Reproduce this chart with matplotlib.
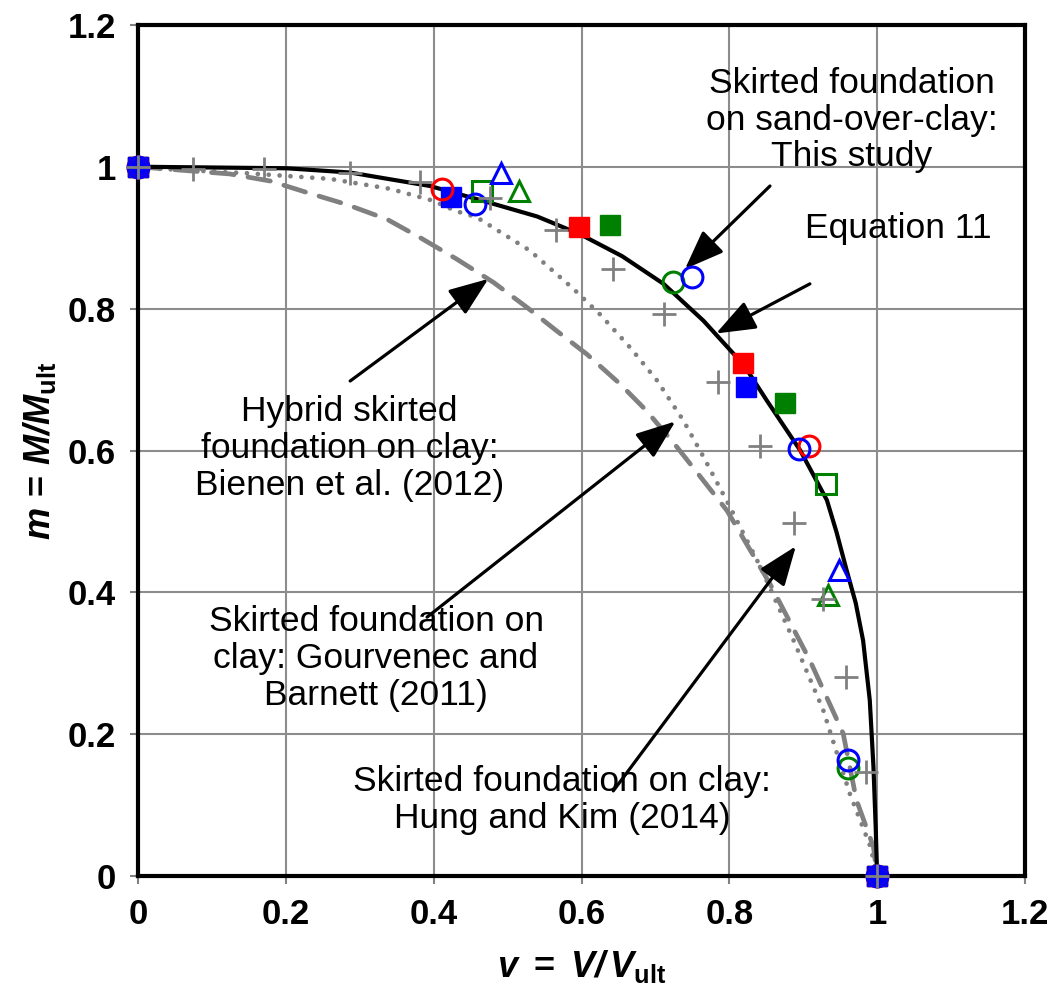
import matplotlib.pyplot as plt

plt.rcParams['font.family'] = ['Liberation Sans', 'DejaVu Sans']
plt.rcParams['mathtext.fontset'] = 'custom'
plt.rcParams['mathtext.rm'] = 'Liberation Sans'
plt.rcParams['mathtext.it'] = 'Liberation Sans:italic'
plt.rcParams['mathtext.bf'] = 'Liberation Sans:bold'
plt.rcParams['mathtext.bfit'] = 'Liberation Sans:italic:bold'

# Equation 11 (solid black)
eq11_v = [0, 0.016, 0.201, 0.287, 0.395, 0.467, 0.540, 0.598, 0.655, 0.711, 0.765,
          0.820, 0.851, 0.896, 0.932, 0.945, 0.959, 0.971, 0.981, 0.990, 0.995, 0.998, 1.0]
eq11_m = [1, 1.0, 0.998, 0.992, 0.973, 0.952, 0.930, 0.905, 0.874, 0.835, 0.783,
          0.720, 0.670, 0.600, 0.530, 0.485, 0.430, 0.385, 0.332, 0.248, 0.154, 0.070, 0.0]

# Bienen et al. (2012) (gray dashed)
bienen_v = [0, 0.124, 0.179, 0.228, 0.282, 0.337, 0.382, 0.431, 0.481, 0.526, 0.566,
            0.607, 0.652, 0.688, 0.729, 0.751, 0.797, 0.855, 0.909, 0.954, 0.972, 0.995, 1.0]
bienen_m = [1, 0.990, 0.980, 0.964, 0.947, 0.926, 0.900, 0.870, 0.837, 0.802, 0.769,
            0.736, 0.694, 0.656, 0.605, 0.576, 0.515, 0.412, 0.304, 0.201, 0.107, 0.041, 0.0]

# Gourvenec and Barnett (2011) (gray dotted)
gourv_v = [0, 0.034, 0.147, 0.260, 0.341, 0.400, 0.429, 0.458, 0.530, 0.589, 0.625,
           0.666, 0.702, 0.738, 0.765, 0.801, 0.842, 0.887, 0.927, 0.963, 0.991, 1.0]
gourv_m = [1, 0.997, 0.991, 0.983, 0.969, 0.952, 0.938, 0.929, 0.882, 0.828, 0.792,
           0.745, 0.699, 0.642, 0.591, 0.520, 0.436, 0.332, 0.234, 0.116, 0.041, 0.0]

# Hung and Kim (2014) (gray plus)
hung_v = [0, 0.075, 0.170, 0.287, 0.382, 0.476, 0.565, 0.643, 0.711, 0.784, 0.841,
          0.887, 0.927, 0.958, 0.985, 1.0]
hung_m = [1, 0.997, 0.997, 0.991, 0.978, 0.956, 0.911, 0.856, 0.792, 0.697, 0.607,
          0.498, 0.390, 0.280, 0.146, 0.0]

# This study (coloured markers)
red_sq_v = [0, 0.597, 0.819, 1.0]
red_sq_m = [1, 0.915, 0.723, 0.0]
blue_sq_v = [0, 0.424, 0.822, 1.0]
blue_sq_m = [1, 0.958, 0.689, 0.0]
green_sq_v = [0, 0.639, 0.875, 1.0]
green_sq_m = [1, 0.918, 0.667, 0.0]
red_ci_v = [0, 0.411, 0.908, 1.0]
red_ci_m = [1, 0.969, 0.606, 0.0]
blue_ci_v = [0, 0.456, 0.750, 0.894, 0.960, 1.0]
blue_ci_m = [1, 0.947, 0.845, 0.602, 0.164, 0.0]
green_ci_v = [0.724, 0.960]
green_ci_m = [0.838, 0.152]
green_osq_v = [0.466, 0.931]
green_osq_m = [0.966, 0.553]
blue_tri_v = [0.491, 0.949]
blue_tri_m = [0.991, 0.431]
green_tri_v = [0.516, 0.933]
green_tri_m = [0.966, 0.396]

ticks = [0, 0.2, 0.4, 0.6, 0.8, 1, 1.2]
tick_labels = ['0', '0.2', '0.4', '0.6', '0.8', '1', '1.2']

fig = plt.figure(figsize=(10.57, 10.01), dpi=100)
ax = fig.add_axes([0.1306, 0.1249, 0.8391, 0.8501])

gray = '#808080'
ax.plot(bienen_v, bienen_m, color=gray, lw=3.4, ls=(0, (4.8, 3.0)),
        dash_capstyle='round', zorder=2)
ax.plot(gourv_v, gourv_m, color=gray, lw=3.4, ls=(0, (0.01, 2.3)),
        dash_capstyle='round', zorder=2)
ax.plot(eq11_v, eq11_m, color='black', lw=3, zorder=3, solid_joinstyle='round')

ms = 15
kw = dict(clip_on=False, zorder=4)
ax.plot(green_sq_v, green_sq_m, 's', color='#008000', ms=ms, **kw)
ax.plot(red_sq_v, red_sq_m, 's', color='#FF0000', ms=ms, **kw)
ax.plot(blue_sq_v, blue_sq_m, 's', color='#0000FF', ms=ms, **kw)
ax.plot(green_osq_v, green_osq_m, 's', mfc='none', mec='#008000', mew=2.2, ms=14, **kw)
ax.plot(green_ci_v, green_ci_m, 'o', mfc='none', mec='#008000', mew=2.2, ms=15, **kw)
ax.plot(red_ci_v, red_ci_m, 'o', mfc='none', mec='#FF0000', mew=2.2, ms=15, **kw)
ax.plot(blue_ci_v, blue_ci_m, 'o', mfc='none', mec='#0000FF', mew=2.2, ms=15, **kw)
ax.plot(blue_tri_v, blue_tri_m, '^', mfc='none', mec='#0000FF', mew=2.2, ms=15, **kw)
ax.plot(green_tri_v, green_tri_m, '^', mfc='none', mec='#008000', mew=2.2, ms=15, **kw)
ax.plot(hung_v, hung_m, '+', color=gray, mew=2, ms=17, clip_on=False, zorder=5)

ax.set_xlim(0, 1.2)
ax.set_ylim(0, 1.2)
ax.set_xticks(ticks)
ax.set_yticks(ticks)
ax.set_xticklabels(tick_labels, fontsize=25, fontweight='bold')
ax.set_yticklabels(tick_labels, fontsize=25, fontweight='bold')
ax.tick_params(direction='out', length=6, width=1.5, color=gray, pad=10)
ax.grid(True, color='#8c8c8c', lw=1.5, zorder=0)
ax.set_axisbelow(True)
for s in ax.spines.values():
    s.set_linewidth(3)
    s.set_color('black')

ax.set_xlabel(r'$\bfit{v}\ \mathbf{=}\ \bfit{V/\,V}_{\mathbf{ult}}$', fontsize=26, labelpad=12)
ax.set_ylabel(r'$\bfit{m}\,\mathbf{=}\,\bfit{M/M}_{\mathbf{ult}}$', fontsize=26, labelpad=7)

fs = 25.5
arrow = dict(arrowstyle='-|>,head_length=1.1,head_width=0.42', color='black',
             lw=2.3, shrinkA=0, shrinkB=0, mutation_scale=22)

ax.text(0.966, 1.066, 'Skirted foundation\non sand-over-clay:\nThis study',
        ha='center', va='center', fontsize=fs, linespacing=1.15)
ax.annotate('', xy=(0.740, 0.856), xytext=(0.855, 0.973), arrowprops=arrow)

ax.text(1.028, 0.913, 'Equation 11', ha='center', va='center', fontsize=fs)
ax.annotate('', xy=(0.782, 0.765), xytext=(0.909, 0.835), arrowprops=arrow)

ax.text(0.286, 0.603, 'Hybrid skirted\nfoundation on clay:\nBienen et al. (2012)',
        ha='center', va='center', fontsize=fs, linespacing=1.15)
ax.annotate('', xy=(0.474, 0.842), xytext=(0.287, 0.698), arrowprops=arrow)

ax.text(0.322, 0.307, 'Skirted foundation on\nclay: Gourvenec and\nBarnett (2011)',
        ha='center', va='center', fontsize=fs, linespacing=1.15)
ax.annotate('', xy=(0.727, 0.641), xytext=(0.391, 0.365), arrowprops=arrow)

ax.text(0.574, 0.107, 'Skirted foundation on clay:\nHung and Kim (2014)',
        ha='center', va='center', fontsize=fs, linespacing=1.15)
ax.annotate('', xy=(0.890, 0.465), xytext=(0.643, 0.120), arrowprops=arrow)

fig.savefig('out.png', dpi=100)
